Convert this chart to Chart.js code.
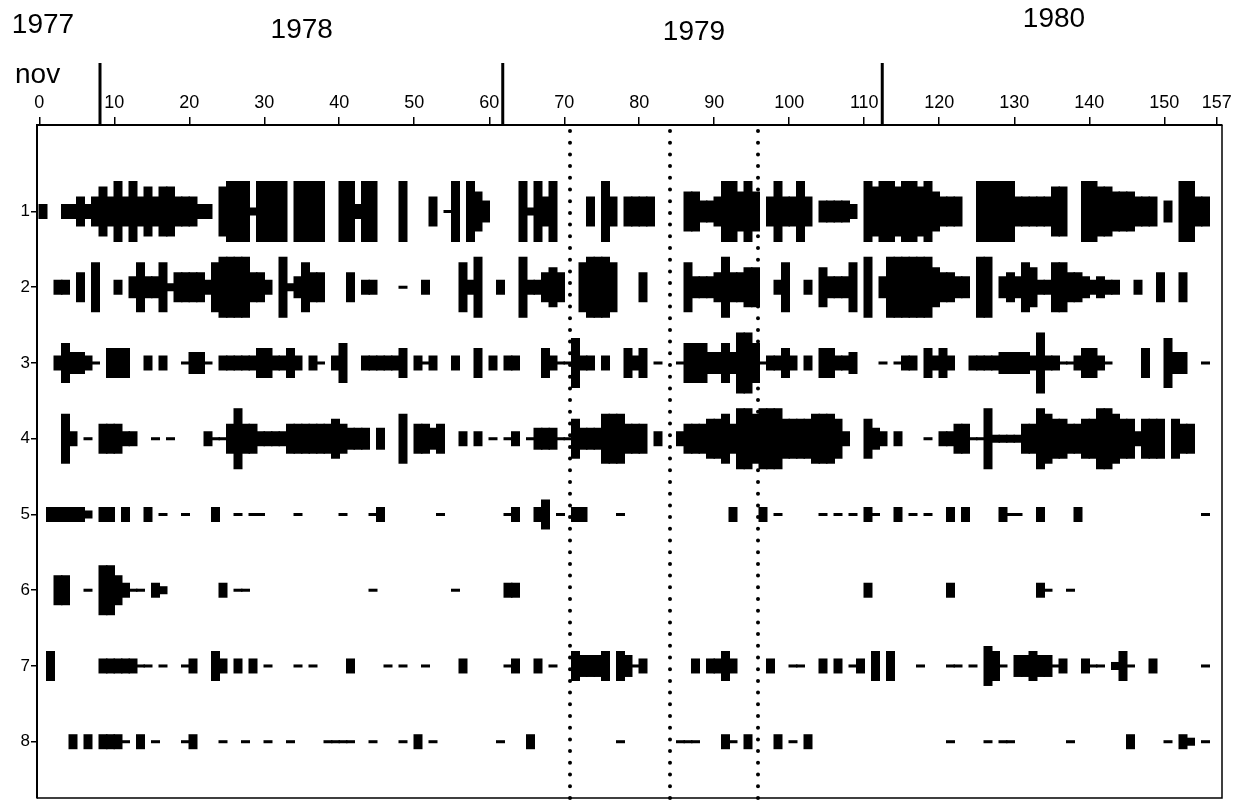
<!DOCTYPE html>
<html>
<head>
<meta charset="utf-8">
<script src="https://cdn.jsdelivr.net/npm/chart.js@4.4.1/dist/chart.umd.min.js"></script>
<style>
  html, body { margin: 0; padding: 0; background: #fff; }
  canvas { display: block; }
</style>
</head>
<body>
<canvas id="kite" width="1236" height="804"></canvas>
<script>
// Weekly abundance class per row (0 = absent ... 8 = most abundant),
// weeks 0-156 counted from November 1977.
const row1 = [
  3,0,0,3,3,5,3,5,7,5, 8,5,8,5,7,5,7,7,5,5, 5,3,3,0,7,8,8,8,2,8, 8,8,8,0,8,8,8,8,0,0,
  8,8,3,8,8,0,0,0,8,0, 0,0,5,0,1,8,0,8,6,4, 0,0,0,0,8,2,8,5,8,0, 0,0,0,5,0,8,5,0,5,5,
  5,5,0,0,0,0,6,6,4,4, 5,8,8,6,8,6,0,5,8,5, 5,8,5,0,4,4,4,4,3,0, 8,7,8,8,7,8,8,7,8,6,
  5,5,5,0,0,8,8,8,8,8, 5,5,5,5,5,7,7,0,0,8, 8,7,7,6,6,6,5,5,5,0, 4,0,8,8,5,5,0
];
const row2 = [
  0,0,3,3,0,5,0,7,0,0, 3,0,4,7,4,4,7,2,5,5, 5,5,3,7,8,8,8,8,5,5, 3,0,8,2,4,7,5,5,0,0,
  0,5,0,3,3,0,0,0,1,0, 0,3,0,0,0,0,7,3,8,0, 0,3,0,0,8,3,3,5,6,5, 0,0,7,8,8,8,7,0,0,0,
  5,0,0,0,0,0,7,4,4,4, 5,8,5,5,6,6,0,0,3,7, 0,0,3,0,6,4,4,4,7,0, 8,0,4,8,8,8,8,8,8,6,
  5,5,4,4,0,8,8,0,4,5, 4,7,6,3,3,7,7,5,5,4, 3,4,3,3,0,0,3,0,0,5, 0,0,5,0,0,0,0
];
const row3 = [
  0,0,3,6,4,4,3,1,0,5, 5,5,0,0,3,0,3,0,0,1, 4,4,1,0,3,3,3,3,3,5, 5,3,3,5,3,0,3,1,0,3,
  6,0,0,3,3,3,3,3,5,0, 3,1,3,0,0,3,0,0,5,0, 3,0,3,3,0,0,0,5,3,1, 1,7,3,3,0,3,0,0,5,3,
  5,0,1,0,0,1,6,6,6,4, 4,6,4,8,8,6,1,3,3,5, 3,0,3,0,5,5,3,3,4,0, 0,0,1,0,1,3,3,0,5,3,
  5,3,0,0,3,3,3,3,4,4, 4,4,3,8,3,3,1,1,3,5, 5,3,1,0,0,0,0,5,0,0, 7,4,4,0,0,1,0
];
const row4 = [
  0,0,0,7,3,0,1,0,5,5, 5,3,3,0,0,1,0,1,0,0, 0,0,3,1,1,5,8,5,5,3, 3,3,3,5,5,5,5,5,5,6,
  5,4,4,4,0,4,0,0,7,0, 5,5,4,5,0,0,3,0,3,0, 1,0,1,3,0,1,4,4,4,1, 1,6,4,4,4,7,7,7,5,5,
  5,0,3,0,0,3,5,5,5,6, 6,7,5,8,8,7,8,8,8,6, 6,6,6,7,7,7,6,3,0,0, 6,4,3,0,3,0,0,0,1,0,
  3,3,5,5,1,1,8,2,2,2, 2,5,5,8,7,6,6,5,5,6, 6,8,8,7,6,6,3,6,6,6, 0,6,5,5,0,0,0
];
const row5 = [
  0,3,3,3,3,3,2,0,3,3, 0,3,0,0,3,0,1,0,0,1, 0,0,0,3,0,0,1,0,1,1, 0,0,0,0,1,0,0,0,0,0,
  1,0,0,0,1,3,0,0,0,0, 0,0,0,1,0,0,0,0,0,0, 0,0,1,3,0,0,3,5,0,1, 0,3,3,0,0,0,0,1,0,0,
  0,0,0,0,0,0,0,0,0,0, 0,0,3,0,0,0,3,0,1,0, 0,0,0,0,1,0,1,0,1,0, 3,1,0,0,3,0,1,0,1,0,
  0,3,0,3,0,0,0,0,3,1, 1,0,0,3,0,0,0,0,3,0, 0,0,0,0,0,0,0,0,0,0, 0,0,0,0,0,1,0
];
const row6 = [
  0,0,5,5,0,0,1,0,7,7, 5,3,1,1,0,3,2,0,0,0, 0,0,0,0,3,0,1,1,0,0, 0,0,0,0,0,0,0,0,0,0,
  0,0,0,0,1,0,0,0,0,0, 0,0,0,0,0,1,0,0,0,0, 0,0,3,3,0,0,0,0,0,0, 0,0,0,0,0,0,0,0,0,0,
  0,0,0,0,0,0,0,0,0,0, 0,0,0,0,0,0,0,0,0,0, 0,0,0,0,0,0,0,0,0,0, 3,0,0,0,0,0,0,0,0,0,
  0,3,0,0,0,0,0,0,0,0, 0,0,0,3,1,0,0,1,0,0, 0,0,0,0,0,0,0,0,0,0, 0,0,0,0,0,0,0
];
const row7 = [
  0,5,0,0,0,0,0,0,3,3, 3,3,3,1,1,0,1,0,0,1, 3,0,0,5,3,0,3,0,3,0, 1,0,0,0,1,0,1,0,0,0,
  0,3,0,0,0,0,1,0,1,0, 0,1,0,0,0,0,3,0,0,0, 0,0,1,3,0,0,3,0,1,0, 0,5,4,4,4,5,0,5,4,1,
  3,0,0,0,0,0,0,3,0,3, 3,5,3,0,0,0,0,3,0,0, 1,1,0,0,3,0,3,0,1,3, 0,5,0,5,0,0,0,1,0,0,
  0,1,1,0,1,0,6,5,1,0, 4,4,5,4,4,1,3,0,0,3, 1,1,0,2,5,1,0,0,3,0, 0,0,0,0,0,1,0
];
const row8 = [
  0,0,0,0,3,0,3,0,3,3, 3,1,0,3,0,1,0,0,0,1, 3,0,0,0,1,0,0,1,0,0, 1,0,0,1,0,0,0,0,1,1,
  1,1,0,0,1,0,0,0,1,0, 3,0,1,0,0,0,0,0,0,0, 0,1,0,0,0,3,0,0,0,0, 0,0,0,0,0,0,0,1,0,0,
  0,0,0,0,0,1,1,1,0,0, 0,3,1,0,3,0,0,0,3,0, 1,0,3,0,0,0,0,0,0,0, 0,0,0,0,0,0,0,0,0,0,
  0,1,0,0,0,0,1,0,1,1, 0,0,0,0,0,0,0,1,0,0, 0,0,0,0,0,3,0,0,0,0, 1,0,3,2,0,1,0
];

const rowLabels = [1, 2, 3, 4, 5, 6, 7, 8];
const weekTicks = [0, 10, 20, 30, 40, 50, 60, 70, 80, 90, 100, 110, 120, 130, 140, 150, 157];
const yearLabels = ['1977', '1978', '1979', '1980'];
const yearStartWeeks = [8.1, 61.8, 112.4];
const markerWeeks = [70.7, 84.1, 95.8];

// half thickness of a kite for each abundance class, in row units
const classHalfHeight = [0, 0.02, 0.053, 0.099, 0.145, 0.198, 0.264, 0.33, 0.403];

const FONT = '"Liberation Sans", Arial, Helvetica, sans-serif';

const rows = [row1, row2, row3, row4, row5, row6, row7, row8];
const datasets = rows.map((values, r) => ({
  label: String(rowLabels[r]),
  data: values
    .map((c, w) => c ? { x: w + 0.5, y: [rowLabels[r] - classHalfHeight[c], rowLabels[r] + classHalfHeight[c]] } : null)
    .filter(Boolean),
  backgroundColor: '#000',
  borderWidth: 0,
  borderSkipped: false,
  inflateAmount: 0,
  grouped: false,
  // slight overlap so neighbouring weeks merge without seams
  barPercentage: 1.2,
  categoryPercentage: 1
}));

const decorations = {
  id: 'decorations',
  afterDatasetsDraw(chart) {
    const { ctx, chartArea: area, scales: { x } } = chart;
    ctx.save();
    ctx.strokeStyle = '#000';
    ctx.lineWidth = 4;
    ctx.lineCap = 'round';
    ctx.setLineDash([0, 11.7]);
    markerWeeks.forEach(w => {
      const px = Math.round(x.getPixelForValue(w));
      ctx.beginPath();
      ctx.moveTo(px, area.top + 6);
      ctx.lineTo(px, area.bottom);
      ctx.stroke();
    });
    ctx.restore();
  },
  afterDraw(chart) {
    const { ctx, chartArea: area, scales: { x } } = chart;
    ctx.save();
    // right and bottom edges of the frame
    ctx.strokeStyle = '#000';
    ctx.lineWidth = 1.5;
    ctx.beginPath();
    ctx.moveTo(area.left, area.bottom);
    ctx.lineTo(area.right, area.bottom);
    ctx.lineTo(area.right, area.top);
    ctx.stroke();

    // year boundaries above the week axis
    ctx.lineWidth = 3;
    yearStartWeeks.forEach(w => {
      const px = x.getPixelForValue(w);
      ctx.beginPath();
      ctx.moveTo(px, 63);
      ctx.lineTo(px, area.top);
      ctx.stroke();
    });

    ctx.fillStyle = '#000';
    ctx.font = '28px ' + FONT;
    ctx.textBaseline = 'alphabetic';
    ctx.textAlign = 'center';
    const labelWeeks = [0.5, 35, 87.3, 135.3];
    const baselines = [33, 38, 40, 27];
    yearLabels.forEach((t, i) => ctx.fillText(t, x.getPixelForValue(labelWeeks[i]), baselines[i]));
    ctx.textAlign = 'left';
    ctx.fillText('nov', 15, 83);
    ctx.restore();
  }
};

new Chart(document.getElementById('kite'), {
  type: 'bar',
  data: { datasets },
  options: {
    responsive: false,
    animation: false,
    devicePixelRatio: 1,
    layout: { padding: { left: 0, right: 14, top: 0, bottom: 6 } },
    plugins: { legend: { display: false }, tooltip: { enabled: false } },
    scales: {
      x: {
        type: 'linear',
        position: 'top',
        offset: false,
        min: -0.3,
        max: 157.7,
        afterBuildTicks: s => { s.ticks = weekTicks.map(v => ({ value: v })); },
        afterFit: s => { s.height = 125; },
        grid: { drawOnChartArea: false, offset: false, tickLength: 8, color: '#000', lineWidth: 1.5 },
        border: { display: true, color: '#000', width: 2 },
        ticks: { color: '#000', font: { family: FONT, size: 18 }, padding: 3, autoSkip: false, maxRotation: 0 }
      },
      y: {
        type: 'linear',
        reverse: true,
        min: -0.142,
        max: 8.743,
        afterBuildTicks: s => { s.ticks = rowLabels.map(v => ({ value: v })); },
        afterFit: s => {
          s.width = 37;
          // row labels sit well inside the frame, so no extra room at the ends
          s.paddingTop = 0;
          s.paddingBottom = 0;
        },
        grid: { drawOnChartArea: false, tickLength: 6, color: '#000', lineWidth: 1.5 },
        border: { display: true, color: '#000', width: 2 },
        ticks: { color: '#000', font: { family: FONT, size: 17 }, padding: 1 }
      }
    }
  },
  plugins: [decorations]
});
</script>
</body>
</html>
